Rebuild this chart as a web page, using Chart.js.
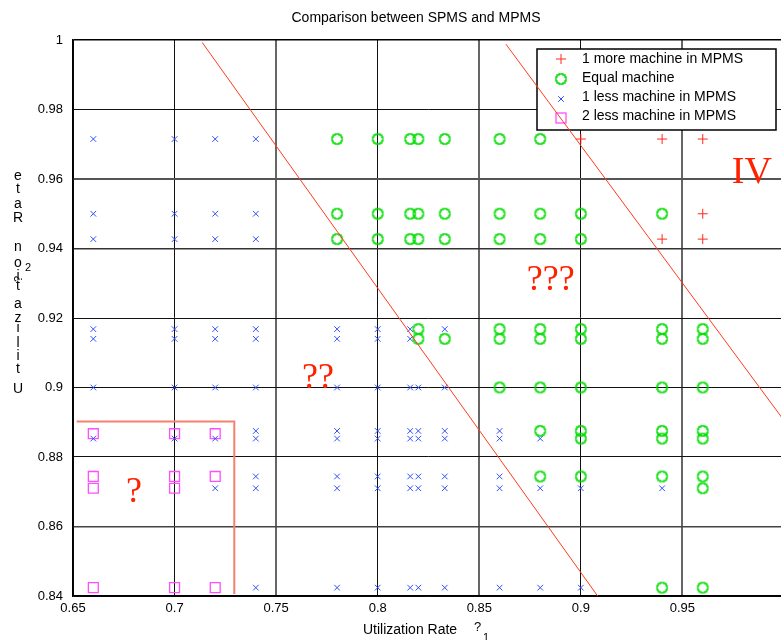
<!DOCTYPE html>
<html><head><meta charset="utf-8">
<script src="https://cdn.jsdelivr.net/npm/chart.js@4.4.1/dist/chart.umd.min.js"></script>
<style>
html,body{margin:0;padding:0;background:#fff;overflow:hidden;}
#wrap{width:781px;height:640px;overflow:hidden;position:relative;}
canvas{display:block;}
</style></head>
<body><div id="wrap"><canvas id="c" width="800" height="640"></canvas></div>
<script>
// ---- data (x = utilization rate rho1, y = utilization rate rho2) ----
const moreMachine = [[0.90,0.9715],[0.94,0.9715],[0.96,0.9715],[0.96,0.950],[0.94,0.9427],[0.96,0.9427]];
const equalMachine = [
 [0.78,0.9715],[0.78,0.950],[0.78,0.9427],
 [0.80,0.9715],[0.80,0.950],[0.80,0.9427],
 [0.816,0.9715],[0.816,0.950],[0.816,0.9427],
 [0.82,0.9715],[0.82,0.950],[0.82,0.9427],[0.82,0.9168],[0.82,0.914],
 [0.833,0.9715],[0.833,0.950],[0.833,0.9427],[0.833,0.914],
 [0.86,0.9715],[0.86,0.950],[0.86,0.9427],[0.86,0.9168],[0.86,0.914],[0.86,0.900],
 [0.88,0.9715],[0.88,0.950],[0.88,0.9427],[0.88,0.9168],[0.88,0.914],[0.88,0.900],[0.88,0.8875],[0.88,0.8744],
 [0.90,0.950],[0.90,0.9427],[0.90,0.9168],[0.90,0.914],[0.90,0.900],[0.90,0.8875],[0.90,0.8853],[0.90,0.8744],
 [0.94,0.950],[0.94,0.9168],[0.94,0.914],[0.94,0.900],[0.94,0.8875],[0.94,0.8853],[0.94,0.8744],[0.94,0.8424],
 [0.96,0.9168],[0.96,0.914],[0.96,0.900],[0.96,0.8875],[0.96,0.8853],[0.96,0.8744],[0.96,0.871],[0.96,0.8424]
];
const lessOneMachine = [
 [0.66,0.9715],[0.66,0.950],[0.66,0.9427],[0.66,0.9168],[0.66,0.914],[0.66,0.900],[0.66,0.8853],
 [0.70,0.9715],[0.70,0.950],[0.70,0.9427],[0.70,0.9168],[0.70,0.914],[0.70,0.900],[0.70,0.8853],
 [0.72,0.9715],[0.72,0.950],[0.72,0.9427],[0.72,0.9168],[0.72,0.914],[0.72,0.900],[0.72,0.8853],[0.72,0.871],
 [0.74,0.9715],[0.74,0.950],[0.74,0.9427],[0.74,0.9168],[0.74,0.914],[0.74,0.900],[0.74,0.8875],[0.74,0.8853],[0.74,0.8744],[0.74,0.871],[0.74,0.8424],
 [0.78,0.9168],[0.78,0.914],[0.78,0.900],[0.78,0.8875],[0.78,0.8853],[0.78,0.8744],[0.78,0.871],[0.78,0.8424],
 [0.80,0.9168],[0.80,0.914],[0.80,0.900],[0.80,0.8875],[0.80,0.8853],[0.80,0.8744],[0.80,0.871],[0.80,0.8424],
 [0.816,0.9168],[0.816,0.914],[0.816,0.900],[0.816,0.8875],[0.816,0.8853],[0.816,0.8744],[0.816,0.871],[0.816,0.8424],
 [0.82,0.900],[0.82,0.8875],[0.82,0.8853],[0.82,0.8744],[0.82,0.871],[0.82,0.8424],
 [0.833,0.9168],[0.833,0.900],[0.833,0.8875],[0.833,0.8853],[0.833,0.8744],[0.833,0.871],[0.833,0.8424],
 [0.86,0.8875],[0.86,0.8853],[0.86,0.8744],[0.86,0.871],[0.86,0.8424],
 [0.88,0.8853],[0.88,0.871],[0.88,0.8424],
 [0.90,0.871],[0.90,0.8424],
 [0.94,0.871]
];
const lessTwoMachine = [
 [0.66,0.8867],[0.66,0.8744],[0.66,0.871],[0.66,0.8424],
 [0.70,0.8867],[0.70,0.8744],[0.70,0.871],[0.70,0.8424],
 [0.72,0.8867],[0.72,0.8744],[0.72,0.8424]
];
const boundaryA = [[0.7136,0.9993],[0.9085,0.8398]];
const boundaryB = [[0.8631,0.9988],[1.0,0.8905]];
const regionBox = [[0.6518,0.8902],[0.7294,0.8902],[0.7294,0.8406]];
const regionLabels = ['?','??','???','IV'];
const regionAnchors = [[0.6761,0.8671],[0.7627,0.8999],[0.8734,0.9281],[0.9743,0.9588]];
const seriesNames = ['1 more machine in MPMS','Equal machine','1 less machine in MPMS','2 less machine in MPMS'];

const SANS = '"Liberation Sans", Arial, Helvetica, sans-serif';
const SERIF = '"Liberation Serif", "Times New Roman", serif';
const C_RED = '#ff2a1a', C_GREEN = '#00dd00', C_BLUE = '#2f4fff', C_MAG = '#ff4dff';

function pts(a){ return a.map(p => ({x:p[0], y:p[1]})); }

function drawGreenShape(ctx, cx, cy){
  const s = [[-2,-5],[2,-5],[2,-4],[4,-4],[4,-2],[5,-2],[5,2],[4,2],[4,4],[2,4],[2,5],[-2,5],[-2,4],[-4,4],[-4,2],[-5,2],[-5,-2],[-4,-2],[-4,-4],[-2,-4]];
  ctx.beginPath();
  s.forEach((p,i)=>{ if(i) ctx.lineTo(cx+p[0],cy+p[1]); else ctx.moveTo(cx+p[0],cy+p[1]); });
  ctx.closePath();
  ctx.strokeStyle = C_GREEN; ctx.lineWidth = 1.4; ctx.stroke();
}
const greenImg = document.createElement('canvas');
greenImg.width = 14; greenImg.height = 14;
drawGreenShape(greenImg.getContext('2d'), 7, 7);

const xGridStyle = {0.75:['#666',2],0.85:['#666',2],0.95:['#666',2]};
const yGridStyle = {0.96:['#555',2],0.94:['#333',1.5],0.86:['#444',1.5],1:['#000',1.5]};
function gs(map, v, i){ const k = Math.round(v*100)/100; const s = map[k]; return s ? s[i] : (i===0?'#111':1); }

const overlay = {
  id:'overlay',
  beforeDatasetsDraw(chart){
    const ctx = chart.ctx; ctx.save();
    // legend box
    ctx.fillStyle = '#fff'; ctx.fillRect(537,49,239,81);
    ctx.strokeStyle = '#000'; ctx.lineWidth = 1.5; ctx.strokeRect(537,49,239,81);
    const mx = 561, ys = [59,79,99,118], tb = [63,82,101,120];
    // +
    ctx.strokeStyle = C_RED; ctx.lineWidth = 1;
    ctx.beginPath(); ctx.moveTo(mx-5,ys[0]); ctx.lineTo(mx+5,ys[0]); ctx.moveTo(mx,ys[0]-5); ctx.lineTo(mx,ys[0]+5); ctx.stroke();
    drawGreenShape(ctx, mx, ys[1]);
    ctx.strokeStyle = C_BLUE; ctx.lineWidth = 1;
    ctx.beginPath(); ctx.moveTo(mx-2.8,ys[2]-2.8); ctx.lineTo(mx+2.8,ys[2]+2.8); ctx.moveTo(mx-2.8,ys[2]+2.8); ctx.lineTo(mx+2.8,ys[2]-2.8); ctx.stroke();
    ctx.strokeStyle = C_MAG; ctx.lineWidth = 1.3; ctx.strokeRect(mx-5, ys[3]-5, 10, 10);
    ctx.fillStyle = '#000'; ctx.font = '14px ' + SANS; ctx.textAlign = 'left'; ctx.textBaseline = 'alphabetic';
    seriesNames.forEach((n,i)=> ctx.fillText(n, 582, tb[i]));
    ctx.restore();
  },
  afterDatasetsDraw(chart){
    const ctx = chart.ctx, xs = chart.scales.x, ys = chart.scales.y;
    ctx.save();
    ctx.fillStyle = '#ff2200'; ctx.textAlign = 'left'; ctx.textBaseline = 'alphabetic';
    regionLabels.forEach((t,i)=>{
      ctx.font = (t==='IV' ? '38px ' : '36px ') + SERIF;
      ctx.fillText(t, xs.getPixelForValue(regionAnchors[i][0]), ys.getPixelForValue(regionAnchors[i][1]));
    });
    ctx.restore();
  },
  afterDraw(chart){
    const ctx = chart.ctx; ctx.save();
    ctx.fillStyle = '#000'; ctx.textBaseline = 'alphabetic';
    // title
    ctx.font = '14px ' + SANS; ctx.textAlign = 'center';
    ctx.fillText('Comparison between SPMS and MPMS', 416, 22);
    // x axis title
    ctx.textAlign = 'left';
    ctx.fillText('Utilization Rate', 363, 634);
    ctx.font = '13px ' + SANS; ctx.fillText('?', 474, 631);
    ctx.font = '11px ' + SANS; ctx.fillText('1', 483, 641);
    // y axis title: stacked letters
    const letters = [['e',180],['t',193],['a',208],['R',222],['n',251],['o',267],['i',280],['t',290],['a',308],['z',322],['i',332],['l',347],['i',360],['t',373],['U',393]];
    ctx.font = '14px ' + SANS; ctx.textAlign = 'center';
    letters.forEach(l => ctx.fillText(l[0], 18, l[1]));
    ctx.font = '11px ' + SANS; ctx.fillText('2', 28, 271);
    ctx.save(); ctx.translate(22, 279); ctx.rotate(-Math.PI/2);
    ctx.font = '11px ' + SANS; ctx.fillText('?', 0, 0); ctx.restore();
    ctx.restore();
  }
};

new Chart(document.getElementById('c'), {
  type: 'scatter',
  data: { datasets: [
    { label:'boundaryA', data: pts(boundaryA), showLine:true, borderColor:'#ff3b1f', borderWidth:1, pointRadius:0, fill:false },
    { label:'boundaryB', data: pts(boundaryB), showLine:true, borderColor:'#ff3b1f', borderWidth:1, pointRadius:0, fill:false },
    { label:'regionBox', data: pts(regionBox), showLine:true, borderColor:'#f5806e', borderWidth:2, pointRadius:0, fill:false },
    { label:seriesNames[0], data: pts(moreMachine), pointStyle:'cross', pointRadius:5, borderColor:C_RED, backgroundColor:C_RED, borderWidth:1 },
    { label:seriesNames[1], data: pts(equalMachine), pointStyle:greenImg, pointRadius:6 },
    { label:seriesNames[2], data: pts(lessOneMachine), pointStyle:'crossRot', pointRadius:4, borderColor:C_BLUE, backgroundColor:C_BLUE, borderWidth:1 },
    { label:seriesNames[3], data: pts(lessTwoMachine), pointStyle:'rect', pointRadius:7, borderColor:C_MAG, backgroundColor:'rgba(0,0,0,0)', borderWidth:1.3 }
  ]},
  options: {
    responsive:false, animation:false, events:[],
    layout:{ padding:{ left:0, top:40, right:16, bottom:0 } },
    plugins:{ legend:{display:false}, title:{display:false}, tooltip:{enabled:false} },
    scales:{
      x:{ type:'linear', min:0.65, max:1,
        ticks:{ stepSize:0.05, autoSkip:false, maxRotation:0, padding:5, color:'#000', font:{family:SANS, size:13},
          callback:v => Math.abs(v-1)<1e-9 ? '' : String(Number(v.toFixed(2))) },
        grid:{ drawTicks:false, color:c=>gs(xGridStyle,c.tick.value,0), lineWidth:c=>gs(xGridStyle,c.tick.value,1) },
        border:{ display:true, color:'#000', width:1.5 },
        afterFit(s){ s.height = 44; } },
      y:{ type:'linear', min:0.84, max:1,
        ticks:{ stepSize:0.02, autoSkip:false, padding:10, color:'#000', font:{family:SANS, size:13},
          callback:v => String(Number(v.toFixed(2))) },
        grid:{ drawTicks:false, color:c=>gs(yGridStyle,c.tick.value,0), lineWidth:c=>gs(yGridStyle,c.tick.value,1) },
        border:{ display:true, color:'#000', width:1.5 },
        afterFit(s){ s.width = 73; } }
    }
  },
  plugins:[overlay]
});
</script></body></html>
